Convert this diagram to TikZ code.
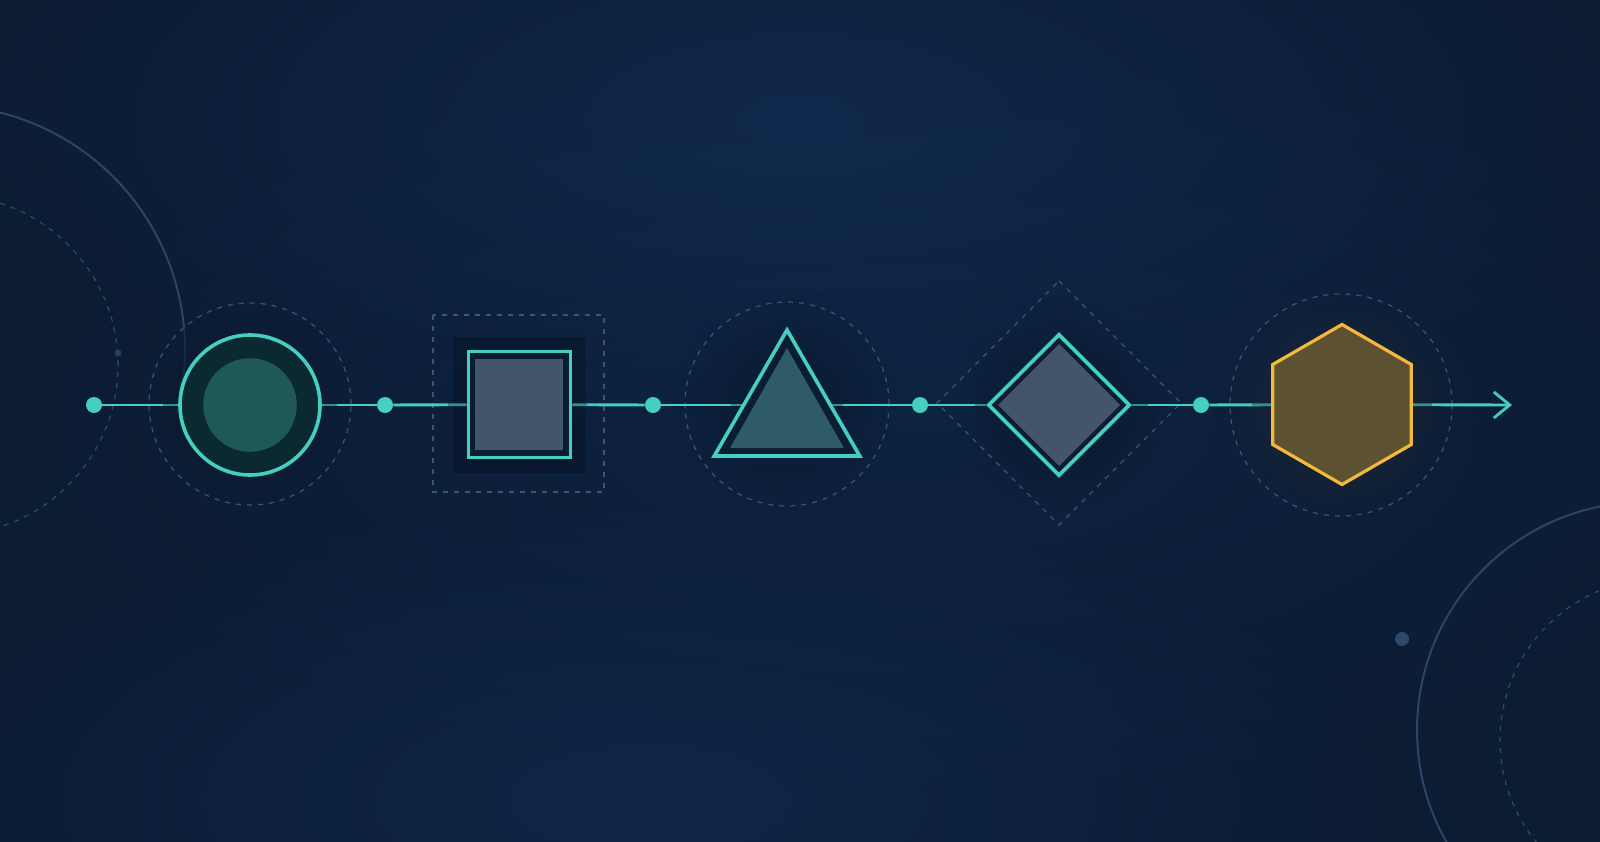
\documentclass[tikz,border=0pt]{standalone}
\usetikzlibrary{shapes.geometric,arrows.meta,fadings}
\definecolor{bgbase}{HTML}{0C1C33}
\definecolor{bgglow}{HTML}{12305A}
\definecolor{teal}{HTML}{45CFBF}
\definecolor{ringc}{HTML}{3A5673}
\definecolor{faintc}{HTML}{2A4566}
\definecolor{darkteal}{HTML}{0A2931}
\definecolor{innerteal}{HTML}{1E5858}
\definecolor{darkband}{HTML}{0B1D31}
\definecolor{slate}{HTML}{43556B}
\definecolor{trifill}{HTML}{2F5A67}
\definecolor{halo}{HTML}{08162A}
\definecolor{gold}{HTML}{F4B83A}
\definecolor{olive}{HTML}{5C5131}
\definecolor{faintdot}{HTML}{2C4A6B}
\tikzfading[name=softglow, inner color=transparent!0, outer color=transparent!100]
\pgfdeclarelayer{bg}
\pgfdeclarelayer{lines}
\pgfsetlayers{bg,lines,main}
\begin{document}
\begin{tikzpicture}[x=0.5pt,y=-0.5pt,
  tdot/.style={circle,fill=teal,minimum size=8pt,inner sep=0pt},
  flow/.style={draw=teal,line width=1.45pt},
  dimseg/.style={draw=halo,opacity=0.32,line width=1.6pt},
  ringd/.style={draw=ringc,line width=0.6pt,dash pattern=on 2.5pt off 3pt},
  faintring/.style={draw=faintc,line width=1pt},
  shapestroke/.style={draw=teal,line width=1.8pt,inner sep=0pt},
  softhalo/.style={fill=halo,path fading=softglow}]
\useasboundingbox (0,0) rectangle (1600,841);
\begin{pgfonlayer}{bg}
  \fill[bgbase] (-10,-10) rectangle (1610,851);
  \begin{scope}
    \clip (0,0) rectangle (1600,841);
    \fill[bgglow,path fading=softglow,opacity=0.6] (800,120) ellipse (420pt and 170pt);
    \fill[bgglow,path fading=softglow,opacity=0.55] (650,800) ellipse (380pt and 150pt);
    \fill[bgglow,path fading=softglow,opacity=0.35] (900,420) ellipse (450pt and 200pt);
    % corner rings
    \draw[faintring] (-60,350) ++(120:122.5pt) arc[start angle=120,end angle=5,radius=122.5pt];
    \draw[faintring,opacity=0.45] (-60,350) ++(5:122.5pt) arc[start angle=5,end angle=-15,radius=122.5pt];
    \draw[ringd,opacity=0.8] (-52,365) circle (85pt);
    \fill[faintdot,opacity=0.7] (118,353) circle (3.5);
    \draw[faintring] (1645,730) circle (114pt);
    \draw[ringd,opacity=0.8] (1662,740) circle (81pt);
    \fill[faintdot] (1402,639) circle (7);
  \end{scope}
  % soft shadows around shapes
  \fill[softhalo,opacity=0.85] (250,405) circle (50pt);
  \fill[halo,opacity=0.7] (453,337) rectangle (585,473);
  \fill[softhalo,opacity=0.7] (787,398) circle (56pt);
  \fill[softhalo,opacity=0.8] (1059,405) circle (54pt);
  \fill[softhalo,opacity=0.75] (1342,405) circle (52pt);
  \fill[gold,path fading=softglow,opacity=0.10] (1342,405) circle (56pt);
  % dashed guides around shapes
  \draw[ringd] (250,404) circle (50.5pt);
  \draw[ringd] (433,315) rectangle (604,492);
  \draw[ringd] (787,404) circle (51pt);
  \draw[ringd] (1059,281) -- (1181,403) -- (1059,525) -- (937,403) -- cycle;
  \draw[ringd] (1341,405) circle (55.5pt);
\end{pgfonlayer}

% dots
\node[tdot] (d0) at (94,405) {};
\node[tdot] (d1) at (385,405) {};
\node[tdot] (d2) at (653,405) {};
\node[tdot] (d3) at (920,405) {};
\node[tdot] (d4) at (1201,405) {};
% shapes
\node[shapestroke,circle,fill=darkteal,minimum size=70pt] (s1) at (250,405) {};
\fill[innerteal] (250,405) circle (23.4pt);
\node[shapestroke,rectangle,fill=darkband,minimum width=51pt,minimum height=53pt] (s2) at (519.5,404.5) {};
\fill[slate] (475,359) rectangle (563,450);
\node[shapestroke,regular polygon,regular polygon sides=3,fill=darkband,minimum size=84pt] (s3) at (787,414) {};
\fill[trifill] (787,348) -- (844,448) -- (730,448) -- cycle;
\node[shapestroke,diamond,aspect=1,fill=darkband,minimum width=71pt,minimum height=71pt] (s4) at (1059,405) {};
\fill[slate] (1059,344) -- (1120,405) -- (1059,466) -- (998,405) -- cycle;
\node[regular polygon,regular polygon sides=6,shape border rotate=30,draw=gold,line width=1.6pt,fill=olive,inner sep=0pt,minimum size=80pt] (s5) at (1342,404.5) {};
\coordinate (end) at (1512,405);
\coordinate (t3l) at (743,405);
\coordinate (t3r) at (831,405);

\begin{pgfonlayer}{lines}
  \draw[flow] (d0) -- (s1);
  \draw[flow] (s1) -- (d1);
  \draw[flow] (d1) -- (s2);
  \draw[flow] (s2) -- (d2);
  \draw[flow] (d2) -- (d3);
  \draw[flow] (d3) -- (s4);
  \draw[flow] (s4) -- (d4);
  \draw[flow] (d4) -- (s5);
  \draw[flow,-{Straight Barb[length=8pt,width=13pt,line width=1.4pt]}] (s5) -- (end);
  % dimmed stretches of the line next to each shape
  \draw[dimseg] (s1.west) -- ++(-15,0);
  \draw[dimseg] (s1.east) -- ++(15,0);
  \draw[dimseg] (s2.west) -- ++(-19,0);
  \draw[dimseg] (s2.east) -- ++(15,0);
  \draw[dimseg] (t3l) -- ++(-12,0);
  \draw[dimseg] (t3r) -- ++(12,0);
  \draw[dimseg] (s4.west) -- ++(-11,0);
  \draw[dimseg] (s4.east) -- ++(16,0);
  \draw[dimseg] (s5.west) -- ++(-19,0);
  \draw[dimseg] (s5.east) -- ++(19,0);
\end{pgfonlayer}
\end{tikzpicture}
\end{document}
